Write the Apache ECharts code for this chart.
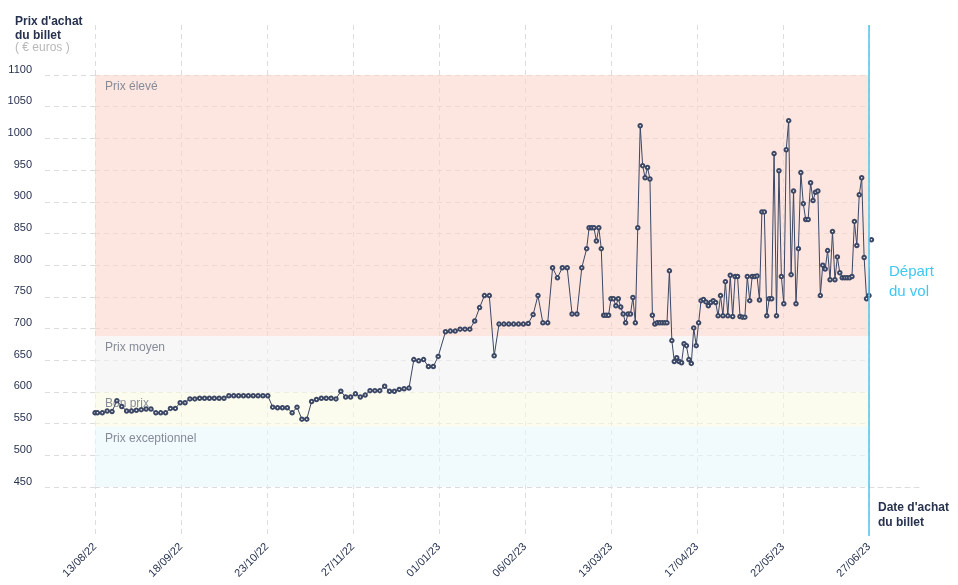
<!DOCTYPE html>
<html>
<head>
<meta charset="utf-8">
<script src="https://cdn.jsdelivr.net/npm/echarts@6/dist/echarts.min.js"></script>
<style>
html,body{margin:0;padding:0;background:#fff;}
#chart{width:958px;height:585px;}
</style>
</head>
<body>
<div id="chart"></div>
<script>
// ---- data ----
const tickLabels = ['13/08/22','18/09/22','23/10/22','27/11/22','01/01/23','06/02/23','13/03/23','17/04/23','22/05/23','27/06/23'];
const firstDay = 0;        // 13/08/22
const departureDay = 318;  // 27/06/23 (days after 13/08/22)

// purchase date, in days after 13/08/22
const purchaseDay = [
  0,1,3,5,7,9,11,13,15,17,19,21,23,25,27,29,31,33,35,37,39,41,43,45,47,49,51,53,
  55,57,59,61,63,65,67,69,71,73,75,77,79,81,83,85,87,89,91,93,95,97,99,101,103,105,
  107,109,111,113,115,117,119,121,123,125,127,129,131,133,135,137,139,141,144,146,
  148,150,152,154,156,158,160,162,164,166,168,170,172,174,176,178,180,182,184,186,
  188,190,192,194,196,198,200,
  202,203,204,205,206,207,208,209,210,211,212,213,214,215,216,217,218,219,220,221,
  222,223,224,225,226,227,228,229,230,231,232,233,234,235,236,237,238,239,240,241,
  242,243,244,245,246,247,248,249,250,251,252,253,254,255,256,257,258,259,260,261,
  262,263,264,265,266,267,268,269,270,271,272,273,274,275,276,277,278,279,280,281,
  282,283,284,285,286,287,288,289,290,291,292,293,294,295,296,297,298,299,300,301,
  302,303,304,305,306,307,308,309,310,311,312,313,314,315,316,317,318,319
];
// ticket price (euros)
const price = [
  567,567,567,570,569,586,577,570,570,571,572,573,573,567,567,567,574,574,583,583,589,589,590,590,590,590,590,590,
  594,594,594,594,594,594,594,594,594,576,575,575,575,567,576,557,557,585,588,590,590,590,589,601,592,592,
  597,592,595,602,602,602,609,601,601,604,605,606,651,649,651,640,640,656,695,696,
  696,699,699,699,712,733,752,752,657,707,707,707,707,707,707,708,722,752,709,709,
  796,780,796,796,723,723,796,
  826,859,859,859,838,859,826,721,721,721,747,747,736,747,734,723,709,723,723,749,
  709,859,1020,957,938,954,936,721,707,709,709,709,709,709,791,681,648,654,648,646,
  676,673,651,645,701,673,709,744,746,742,736,741,744,741,720,752,720,774,720,784,
  719,782,782,719,718,718,782,744,782,782,783,745,884,884,720,747,747,976,720,949,
  782,739,982,1028,785,917,739,826,946,897,872,872,930,902,915,917,752,800,794,823,
  777,853,777,813,788,780,780,780,780,782,869,831,911,938,812,747,752,840
];

const bandNames = ['Prix élevé','Prix moyen','Bon prix','Prix exceptionnel'];
const bandHigh  = [1100, 688, 600, 545];
const bandLow   = [688, 600, 545, 450];

const yMin = 450, yMax = 1100, yStep = 50;

// ---- style ----
const NAVY = '#27324f';
const GRID = '#dcdcdc';
const DASH = [5, 4];
const bandColors = ['rgba(252,214,203,0.6)','rgba(241,241,241,0.6)','rgba(248,250,226,0.6)','rgba(232,248,253,0.6)'];
const FONT = '"Liberation Sans", Arial, sans-serif';
const step = (departureDay - firstDay) / (tickLabels.length - 1);

const chart = echarts.init(document.getElementById('chart'), null, {renderer: 'canvas'});

const option = {
  animation: false,
  backgroundColor: '#ffffff',
  textStyle: {fontFamily: FONT},
  title: [
    {text: "Prix d'achat\ndu billet", left: 15, top: 15, padding: 0,
     textStyle: {fontFamily: FONT, fontSize: 12, fontWeight: 'bold', color: NAVY, lineHeight: 14}},
    {text: '( € euros )', left: 15, top: 41, padding: 0,
     textStyle: {fontFamily: FONT, fontSize: 12, fontWeight: 'normal', color: '#b8b8b8', lineHeight: 14}},
    {text: "Date d'achat\ndu billet", left: 878, top: 500, padding: 0,
     textStyle: {fontFamily: FONT, fontSize: 12, fontWeight: 'bold', color: NAVY, lineHeight: 15}},
    {text: 'Départ\ndu vol', left: 889, top: 262, padding: 0,
     textStyle: {fontFamily: FONT, fontSize: 15, fontWeight: 'normal', color: '#3ec7f2', lineHeight: 20}}
  ],
  grid: [
    {left: 95, right: 89, top: 75, bottom: 98, outerBoundsMode: 'none'},
    {left: 95, right: 89, top: 25, bottom: 49, outerBoundsMode: 'none'},
    {left: 45, width: 50, top: 75, bottom: 98, outerBoundsMode: 'none'},
    {left: 869, width: 50, top: 75, bottom: 98, outerBoundsMode: 'none'}
  ],
  xAxis: [
    {gridIndex: 0, type: 'value', min: firstDay, max: departureDay, interval: step, show: false},
    {gridIndex: 1, type: 'value', min: firstDay, max: departureDay, interval: step,
     axisLine: {show: false}, axisTick: {show: false},
     splitLine: {show: true, lineStyle: {color: GRID, type: DASH, width: 1}},
     axisLabel: {rotate: 45, margin: 9, color: NAVY, fontSize: 11, fontFamily: FONT,
                 showMinLabel: true, showMaxLabel: true,
                 formatter: function (v) { return tickLabels[Math.round((v - firstDay) / step)] || ''; }}},
    {gridIndex: 2, type: 'value', min: 0, max: 1, show: false},
    {gridIndex: 3, type: 'value', min: 0, max: 1,
     axisLine: {show: true, lineStyle: {color: GRID, type: DASH, width: 1}},
     axisTick: {show: false}, axisLabel: {show: false}, splitLine: {show: false}}
  ],
  yAxis: [
    {gridIndex: 0, type: 'value', min: yMin, max: yMax, interval: yStep,
     axisLine: {show: false}, axisTick: {show: false}, axisLabel: {show: false},
     splitLine: {show: true, lineStyle: {color: GRID, type: DASH, width: 1}}},
    {gridIndex: 1, type: 'value', min: 0, max: 1, show: false},
    {gridIndex: 2, type: 'value', min: yMin, max: yMax, interval: yStep,
     axisLine: {show: false}, axisTick: {show: false},
     axisLabel: {color: NAVY, fontSize: 11, fontFamily: FONT, margin: 13, verticalAlign: 'bottom',
                 formatter: function (v) { return String(v); }},
     splitLine: {show: true, lineStyle: {color: GRID, type: DASH, width: 1}}},
    {gridIndex: 3, type: 'value', min: 0, max: 1, show: false}
  ],
  series: [
    {
      type: 'line', name: 'prix', xAxisIndex: 0, yAxisIndex: 0,
      data: purchaseDay.map((d, i) => [d, price[i]]),
      clip: false,
      symbol: 'emptyCircle', symbolSize: 3.5, showSymbol: true, showAllSymbol: true,
      lineStyle: {color: '#3b4764', width: 1},
      itemStyle: {color: '#3b4764', borderWidth: 1},
      emphasis: {disabled: true},
      markArea: {
        silent: true,
        label: {show: true, position: 'insideTopLeft', distance: 5, offset: [5, 1],
                color: '#878b98', fontSize: 12, fontFamily: FONT},
        data: bandNames.map((n, i) => [
          {name: n, yAxis: bandHigh[i], itemStyle: {color: bandColors[i]}},
          {yAxis: bandLow[i]}
        ])
      },
      z: 3
    },
    {
      type: 'line', name: 'depart', xAxisIndex: 1, yAxisIndex: 1, data: [],
      markLine: {
        silent: true, symbol: 'none', animation: false,
        label: {show: false},
        lineStyle: {color: '#4cc4ee', width: 1.5, type: 'solid'},
        data: [{xAxis: departureDay}]
      },
      z: 4
    }
  ]
};
chart.setOption(option);
</script>
</body>
</html>
